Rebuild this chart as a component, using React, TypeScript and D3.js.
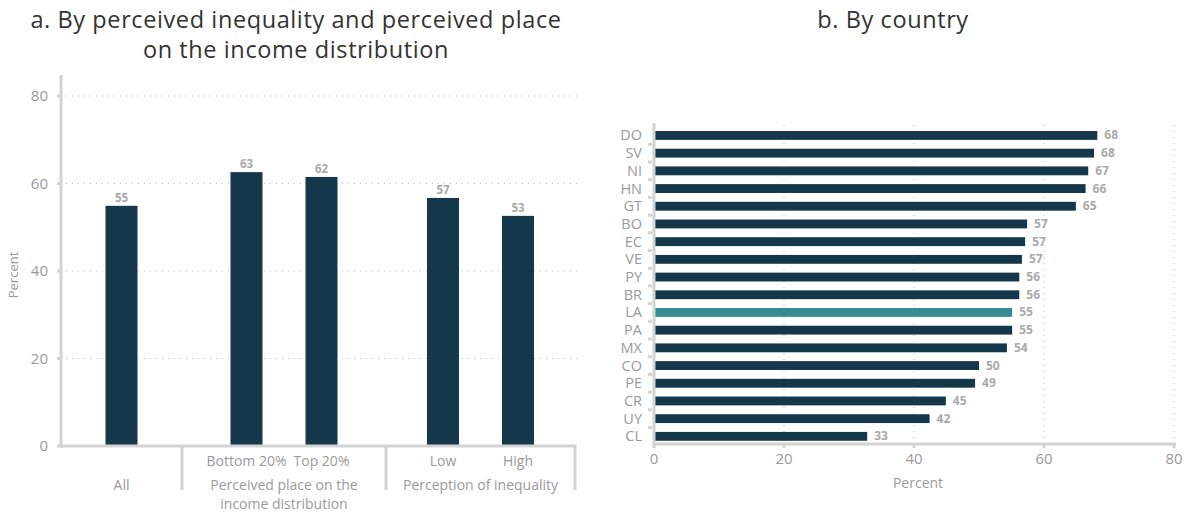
import React from "react";
import * as d3 from "d3";

// ---------- Panel A data ----------
const panelACategories = ["All", "Bottom 20%", "Top 20%", "Low", "High"];
const panelAGroupOf = [0, 1, 1, 2, 2];
const panelAGroupLabels = [["All"], ["Perceived place on the", "income distribution"], ["Perception of inequality"]];
const panelAValues = [54.9, 62.6, 61.5, 56.7, 52.6];
const panelATicks = [0, 20, 40, 60, 80];

// ---------- Panel B data ----------
const countries = ["DO", "SV", "NI", "HN", "GT", "BO", "EC", "VE", "PY", "BR", "LA", "PA", "MX", "CO", "PE", "CR", "UY", "CL"];
const countryValues = [68.2, 67.7, 66.8, 66.4, 64.9, 57.4, 57.1, 56.6, 56.2, 56.2, 55.1, 55.1, 54.3, 50.0, 49.4, 44.9, 42.4, 32.8];
const highlightCountry = "LA";
const panelBTicks = [0, 20, 40, 60, 80];

const FONT = "'Open Sans', sans-serif";
const BAR = "#15374b";
const TEAL = "#378b93";
const AXIS = "#d3d3d3";
const GRID = "#bdbdbd";
const TICKTXT = "#9a9a9a";
const VALTXT = "#aaaaaa";
const TITLE = "#333333";

export default function App() {
  // Panel A layout
  const aLeft = 61, aRight = 575, aTop = 75, aBottom = 446;
  const groupBounds = [61, 182, 386, 575];
  const yA = d3.scaleLinear().domain([0, 80]).range([aBottom, 96]);
  const groupX = (g: number) => {
    const cats = panelACategories.filter((_, i) => panelAGroupOf[i] === g);
    const c = (groupBounds[g] + groupBounds[g + 1]) / 2;
    const half = (cats.length * 75) / 2;
    return d3.scalePoint<string>().domain(cats).range([c - half, c + half]).padding(0.5);
  };
  const barW = 32;

  // Panel B layout
  const bLeft = 654, bRight = 1174, bTop = 123, bBottom = 444;
  const xB = d3.scaleLinear().domain([0, 80]).range([bLeft, bRight]);
  const yB = d3.scaleBand<string>().domain(countries).range([126.6, 445.2]).paddingInner(0.5).paddingOuter(0.25);

  return (
    <svg width={1190} height={512} style={{ position: "absolute", left: 0, top: 0, background: "#fff" }} fontFamily={FONT}>
      {/* Titles */}
      <text x={296} y={28} textAnchor="middle" fontSize={23.5} letterSpacing={0.6} fill={TITLE}>a. By perceived inequality and perceived place</text>
      <text x={296} y={58} textAnchor="middle" fontSize={23.5} letterSpacing={0.6} fill={TITLE}>on the income distribution</text>
      <text x={893} y={28} textAnchor="middle" fontSize={23.5} letterSpacing={0.6} fill={TITLE}>b. By country</text>

      {/* ---------- Panel A ---------- */}
      {panelATicks.filter(t => t > 0).map(t => (
        <line key={"ga" + t} x1={66} x2={578} y1={yA(t)} y2={yA(t)} stroke={GRID} strokeWidth={1} strokeDasharray="1 5" />
      ))}
      {panelATicks.map(t => (
        <g key={"ta" + t}>
          <rect x={57} y={yA(t) - 1.5} width={3} height={3} fill={AXIS} />
          <text x={48} y={yA(t) + 5} textAnchor="end" fontSize={15} fill={TICKTXT}>{t}</text>
        </g>
      ))}
      <text transform={`translate(18,275) rotate(-90)`} textAnchor="middle" fontSize={13} fill={TICKTXT}>Percent</text>
      {panelACategories.map((c, i) => {
        const x = groupX(panelAGroupOf[i])(c)!;
        const v = panelAValues[i];
        return (
          <g key={"ba" + c}>
            <rect x={x - barW / 2} y={yA(v)} width={barW} height={aBottom - yA(v)} fill={BAR} />
            <text x={x} y={yA(v) - 4} textAnchor="middle" fontSize={11.5} fontWeight="bold" fill={VALTXT}>{Math.round(v)}</text>
            {c !== "All" && (
              <text x={x} y={466} textAnchor="middle" fontSize={14} fill={TICKTXT}>{c}</text>
            )}
          </g>
        );
      })}
      {panelAGroupLabels.map((lines, g) => {
        const c = (groupBounds[g] + groupBounds[g + 1]) / 2;
        return lines.map((ln, k) => (
          <text key={"gl" + g + k} x={c} y={490 + k * 19} textAnchor="middle" fontSize={14} fill={TICKTXT}>{ln}</text>
        ));
      })}
      {groupBounds.slice(1).map(b => (
        <line key={"gd" + b} x1={b} x2={b} y1={aBottom} y2={490} stroke={AXIS} strokeWidth={3} />
      ))}
      <line x1={aLeft} x2={aLeft} y1={aTop} y2={aBottom + 1.5} stroke={AXIS} strokeWidth={3} />
      <line x1={aLeft - 1.5} x2={aRight + 1.5} y1={aBottom} y2={aBottom} stroke={AXIS} strokeWidth={3} />

      {/* ---------- Panel B ---------- */}
      {panelBTicks.filter(t => t > 0).map(t => (
        <line key={"gb" + t} x1={xB(t)} x2={xB(t)} y1={bTop + 2} y2={bBottom} stroke={GRID} strokeWidth={1} strokeDasharray="1 5" />
      ))}
      {panelBTicks.map(t => (
        <g key={"tb" + t}>
          <rect x={xB(t) - 1.5} y={bBottom} width={3} height={4} fill={AXIS} />
          <text x={xB(t)} y={464} textAnchor="middle" fontSize={15} fill={TICKTXT}>{t}</text>
        </g>
      ))}
      <text x={918} y={488} textAnchor="middle" fontSize={14} fill={TICKTXT}>Percent</text>
      {countries.slice(1).map(c => (
        <rect key={"yt" + c} x={648} y={yB(c)! - yB.step() * 0.25 - 1.5} width={4} height={3} fill={AXIS} />
      ))}
      {countries.map((c, i) => {
        const v = countryValues[i];
        const y = yB(c)!;
        const h = yB.bandwidth();
        return (
          <g key={"bb" + c}>
            <rect x={xB(0)} y={y} width={xB(v) - xB(0)} height={h} fill={c === highlightCountry ? TEAL : BAR} />
            <text x={xB(v) + 7} y={y + h / 2 + 4} fontSize={12} fontWeight="bold" fill={VALTXT}>{Math.round(v)}</text>
            <text x={642} y={y + h / 2 + 5} textAnchor="end" fontSize={14.5} fill={TICKTXT}>{c}</text>
          </g>
        );
      })}
      <line x1={bLeft} x2={bLeft} y1={bTop} y2={bBottom + 1.5} stroke={AXIS} strokeWidth={3} />
      <line x1={bLeft - 1.5} x2={bRight + 2} y1={bBottom} y2={bBottom} stroke={AXIS} strokeWidth={3} />
    </svg>
  );
}
